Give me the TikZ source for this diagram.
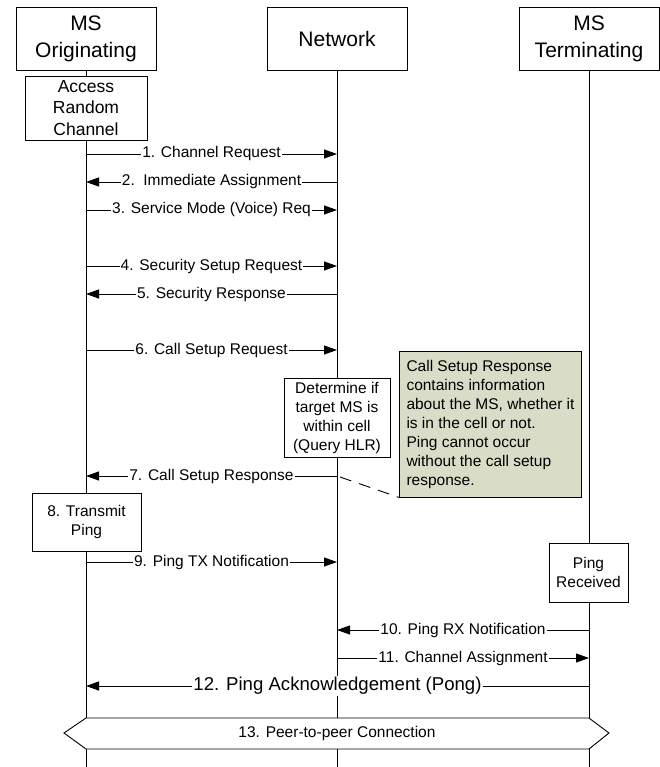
\documentclass[tikz,border=0pt]{standalone}
\usepackage{fontspec}
\setmainfont{Liberation Sans}
\usetikzlibrary{arrows.meta}
\definecolor{notefill}{RGB}{217,221,199}
\begin{document}
\begin{tikzpicture}[x=1pt,y=-1pt, line width=0.9pt,
  head/.style={draw, fill=white, minimum width=140pt, minimum height=63pt, inner sep=0pt, align=center, font=\fontsize{21}{27}\selectfont},
  actbox/.style={draw, fill=white, inner sep=0pt, align=center, font=\fontsize{15.5}{19}\selectfont},
  msg/.style={-{Triangle[length=13pt,width=9pt]}},
  lbl/.style={fill=white, inner sep=1pt, text height=11pt, text depth=3pt, font=\fontsize{15.5}{19}\selectfont},
  biglbl/.style={fill=white, inner sep=1pt, text height=13.5pt, text depth=4pt, font=\fontsize{18.6}{22}\selectfont},
  notebox/.style={draw, fill=notefill, inner sep=0pt, minimum width=182pt, minimum height=146pt, align=left, font=\fontsize{15.5}{19}\selectfont},
  tail/.style={dash pattern=on 12pt off 8pt}
]
\useasboundingbox (0,0) rectangle (660,767);
% lifeline ends
\coordinate (oriEnd) at (86,767);
\coordinate (netEnd) at (337,767);
\coordinate (terEnd) at (589,767);
% headers
\node[head] (ori) at (86,38.5) {MS\\Originating};
\node[head] (net) at (337,38.5) {Network};
\node[head] (ter) at (589,38.5) {MS\\Terminating};
% lifelines
\draw (ori.south) -- (oriEnd);
\draw (net.south) -- (netEnd);
\draw (ter.south) -- (terEnd);
% activity boxes
\node[actbox, minimum width=122pt, minimum height=64pt, font=\fontsize{17.5}{21.5}\selectfont] (arc) at (86,108) {Access\\Random\\Channel};
\node[actbox, minimum width=106pt, minimum height=79pt] (det) at (337,417.5) {Determine if\\target MS is\\within cell\\(Query HLR)};
\node[notebox] (note) at (490.5,424) {Call Setup Response\\contains information\\about the MS, whether it\\is in the cell or not.\\Ping cannot occur\\without the call setup\\response.};
\node[actbox, minimum width=109pt, minimum height=58pt] (tx) at (86.5,522) {8. Transmit\\Ping};
\node[actbox, minimum width=79pt, minimum height=59pt] (rx) at (588.5,572.5) {Ping\\Received};
% messages
\draw[msg] (ori.south |- 0,154) -- node[lbl]{1. Channel Request} (net.south |- 0,154);
\draw[msg] (net.south |- 0,182) -- node[lbl]{2.\ \ Immediate Assignment} (ori.south |- 0,182);
\draw[msg] (ori.south |- 0,210) -- node[lbl]{3. Service Mode (Voice) Req} (net.south |- 0,210);
\draw[msg] (ori.south |- 0,266) -- node[lbl]{4. Security Setup Request} (net.south |- 0,266);
\draw[msg] (net.south |- 0,294) -- node[lbl]{5. Security Response} (ori.south |- 0,294);
\draw[msg] (ori.south |- 0,350) -- node[lbl]{6. Call Setup Request} (net.south |- 0,350);
\draw[msg] (net.south |- 0,476) -- node[lbl]{7. Call Setup Response} (ori.south |- 0,476);
\coordinate (tailStart) at (340,477);
\draw[tail] (tailStart) -- (note.south west);
\draw[msg] (ori.south |- 0,562) -- node[lbl]{9. Ping TX Notification} (net.south |- 0,562);
\draw[msg] (ter.south |- 0,630) -- node[lbl]{10. Ping RX Notification} (net.south |- 0,630);
\draw[msg] (net.south |- 0,658) -- node[lbl]{11. Channel Assignment} (ter.south |- 0,658);
\draw[msg] (ter.south |- 0,686) -- node[biglbl]{12. Ping Acknowledgement (Pong)} (ori.south |- 0,686);
% peer-to-peer connection
\draw[fill=white] (64,733) -- (86,718) -- (589,718) -- (609,733) -- (589,749) -- (86,749) -- cycle;
\node[font=\fontsize{15.5}{19}\selectfont, inner sep=0pt] (p2p) at (337,733) {13. Peer-to-peer Connection};
\end{tikzpicture}
\end{document}
